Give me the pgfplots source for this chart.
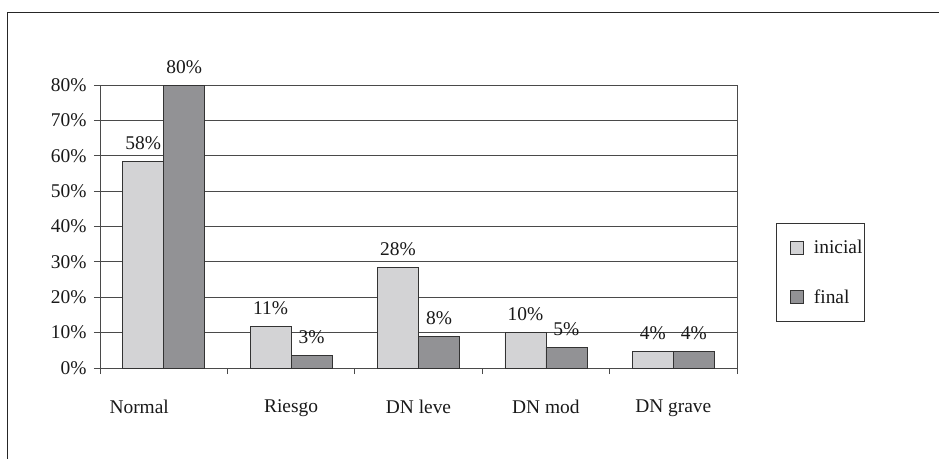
\documentclass[border=0pt]{standalone}
\usepackage{pgfplots}
\pgfplotsset{compat=1.18}
\usepackage{pgfplotstable}
\usepackage{fontspec}
\setmainfont{Liberation Serif}
\definecolor{ini}{HTML}{D3D3D5}
\definecolor{fin}{HTML}{929295}
\definecolor{edge}{HTML}{333333}
\definecolor{gridc}{HTML}{4A4A4A}
\newcommand{\chartfont}{\fontsize{19.5}{22}\selectfont}
\pgfplotstableread{
x y lab
0 58.3 58
1 11.7 11
2 28.5 28
3 10.0 10
4 4.8 4
}\inicial
\pgfplotstableread{
x y lab
0 80.0 80
1 3.6 3
2 8.8 8
3 5.9 5
4 4.8 4
}\final
\begin{document}
\begin{tikzpicture}
\useasboundingbox (0bp,0bp) rectangle (939bp,-459bp);
\draw[line width=1.5bp, black!85] (7.5bp,-459bp) -- (7.5bp,-12.5bp) -- (939bp,-12.5bp);
\begin{axis}[
  at={(100bp,-368bp)}, anchor=south west,
  scale only axis, width=637bp, height=283bp,
  ybar=0pt, bar width=41bp,
  xmin=-0.5, xmax=4.5, ymin=0, ymax=80,
  enlargelimits=false, clip=false,
  axis line style={draw=gridc, line width=1bp},
  ymajorgrids, grid style={draw=gridc, line width=0.9bp},
  ytick={0,10,...,80},
  yticklabel={\pgfmathprintnumber{\tick}\%},
  /pgf/number format/assume math mode=true,
  xtick={0,1,2,3,4},
  xticklabels={{\hspace*{-49bp}Normal},Riesgo,DN leve,DN mod,DN grave},
  minor xtick={-0.5,0.5,...,4.5},
  xtick style={draw=none},
  minor x tick style={draw=gridc, line width=1bp},
  ytick style={draw=gridc, line width=1bp},
  tick align=outside, xtick pos=bottom, ytick pos=left,
  major tick length=6bp, minor tick length=6bp,
  ticklabel style={font=\chartfont, text=black!90},
  yticklabel style={xshift=-4bp},
  xticklabel style={yshift=-22bp},
  nodes near coords={\pgfmathprintnumber{\pgfplotspointmeta}\%},
  point meta=explicit,
  nodes near coords style={font=\chartfont, text=black!90, anchor=base, yshift=12bp, inner sep=0pt},
  legend image code/.code={%
    \path[fill=none, draw=none] (0bp,-24.5bp) rectangle (14bp,24.5bp);
    \draw[#1, draw=edge, line width=0.8bp] (14bp,-6.5bp) rectangle (27bp,6.5bp);},
  legend style={at={(axis description cs:1.0612,0.5124)}, anchor=north west,
    draw=edge, line width=1bp, fill=white, inner xsep=0pt, inner ysep=0pt,
    column sep=8bp, row sep=0pt,
    font=\chartfont, text=black!90,
    nodes={inner sep=2bp}},
  legend cell align=left,
]
\addplot[fill=ini, draw=edge, line width=0.8bp] table[x=x, y=y, meta=lab] {\inicial};
\addlegendentry{inicial}
\addplot[fill=fin, draw=edge, line width=0.8bp] table[x=x, y=y, meta=lab] {\final};
\addlegendentry{final}
\end{axis}
\end{tikzpicture}
\end{document}
